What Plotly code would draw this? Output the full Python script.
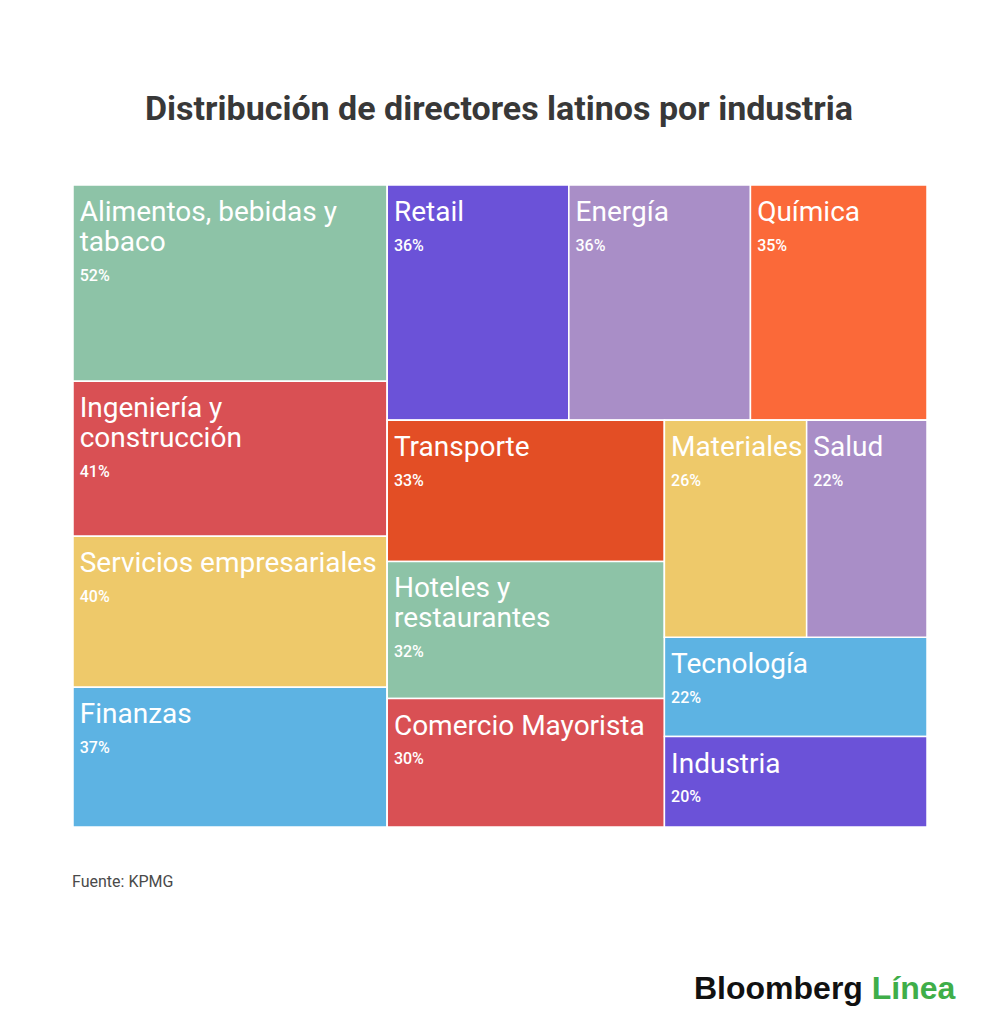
import plotly.graph_objects as go

# hojas del treemap
industrias = [
    "Alimentos, bebidas y<br>tabaco", "Ingeniería y<br>construcción", "Servicios empresariales",
    "Finanzas", "Retail", "Energía", "Química", "Transporte",
    "Hoteles y<br>restaurantes", "Comercio Mayorista", "Materiales", "Salud",
    "Tecnología", "Industria",
]
porcentajes = [52, 41, 40, 37, 36, 36, 35, 33, 32, 30, 26, 22, 22, 20]
colores = [
    "#8dc3a7", "#d95054", "#eec96a", "#5db3e3", "#6b52d8", "#a98ec7", "#fb6939",
    "#e34e25", "#8dc3a7", "#d95054", "#eec96a", "#a98ec7", "#5db3e3", "#6b52d8",
]
# grupo (invisible) al que pertenece cada hoja, para reproducir la disposicion
grupo_hoja = ["col1", "col1", "col1", "col1", "fila_sup", "fila_sup", "fila_sup",
              "col_t", "col_t", "col_t", "mat_sal", "mat_sal", "col_m", "col_m"]

# grupos invisibles: id -> padre
grupos = ["root", "col1", "derecha", "fila_sup", "abajo", "col_t", "col_m", "mat_sal"]
padres_grupos = ["", "root", "root", "derecha", "derecha", "abajo", "abajo", "col_m"]

ids = grupos + [f"h{i}" for i in range(len(industrias))]
labels = grupos + industrias
parents = padres_grupos + grupo_hoja
values = [0] * len(grupos) + porcentajes
colors = ["white"] * len(grupos) + colores

# espaciador invisible al inicio de cada linea: baja y separa el texto del borde
esp = "<span style='font-size:36px'>\u200a</span>"


def texto_hoja(nombre, pct):
    lineas = [esp + f"<span style='font-size:28px'>{l}</span>" for l in nombre.split("<br>")]
    lineas.append(esp + f"<span style='font-size:16px;font-weight:500'>{pct}%</span>")
    return "<br>".join(lineas)


textos = [""] * len(grupos) + [texto_hoja(n, p) for n, p in zip(industrias, porcentajes)]

fig = go.Figure(go.Treemap(
    ids=ids,
    labels=labels,
    parents=parents,
    values=values,
    text=textos,
    textinfo="text",
    sort=False,
    branchvalues="remainder",
    marker=dict(colors=colors, line=dict(color="white", width=1.5),
                pad=dict(t=0, l=0, r=0, b=0)),
    tiling=dict(packing="slice-dice", pad=0),
    pathbar=dict(visible=False),
    textposition="top left",
    textfont=dict(family="Roboto", size=23, color="white"),
    hoverinfo="skip",
    domain=dict(x=[0.065, 0.919], y=[0.2049, 0.8282]),
))

fig.update_layout(
    width=1000,
    height=1030,
    margin=dict(l=0, r=0, t=0, b=0),
    paper_bgcolor="white",
    annotations=[
        dict(text="<b>Distribución de directores latinos por industria</b>",
             x=0.491, y=0.903, xref="paper", yref="paper",
             xanchor="center", yanchor="middle", showarrow=False,
             font=dict(family="Roboto", size=34, color="#383838")),
        dict(text="Fuente: KPMG", x=0.062, y=0.1515, xref="paper", yref="paper",
             xanchor="left", yanchor="middle", showarrow=False,
             font=dict(family="Roboto", size=16, color="#4a4a4a")),
        dict(text="<b>Bloomberg <span style='color:#3fae49'>Línea</span></b>",
             x=0.950, y=0.0485, xref="paper", yref="paper",
             xanchor="right", yanchor="middle", showarrow=False,
             font=dict(family="Liberation Sans", size=32, color="#111111")),
    ],
)

fig.write_html("out.html")
